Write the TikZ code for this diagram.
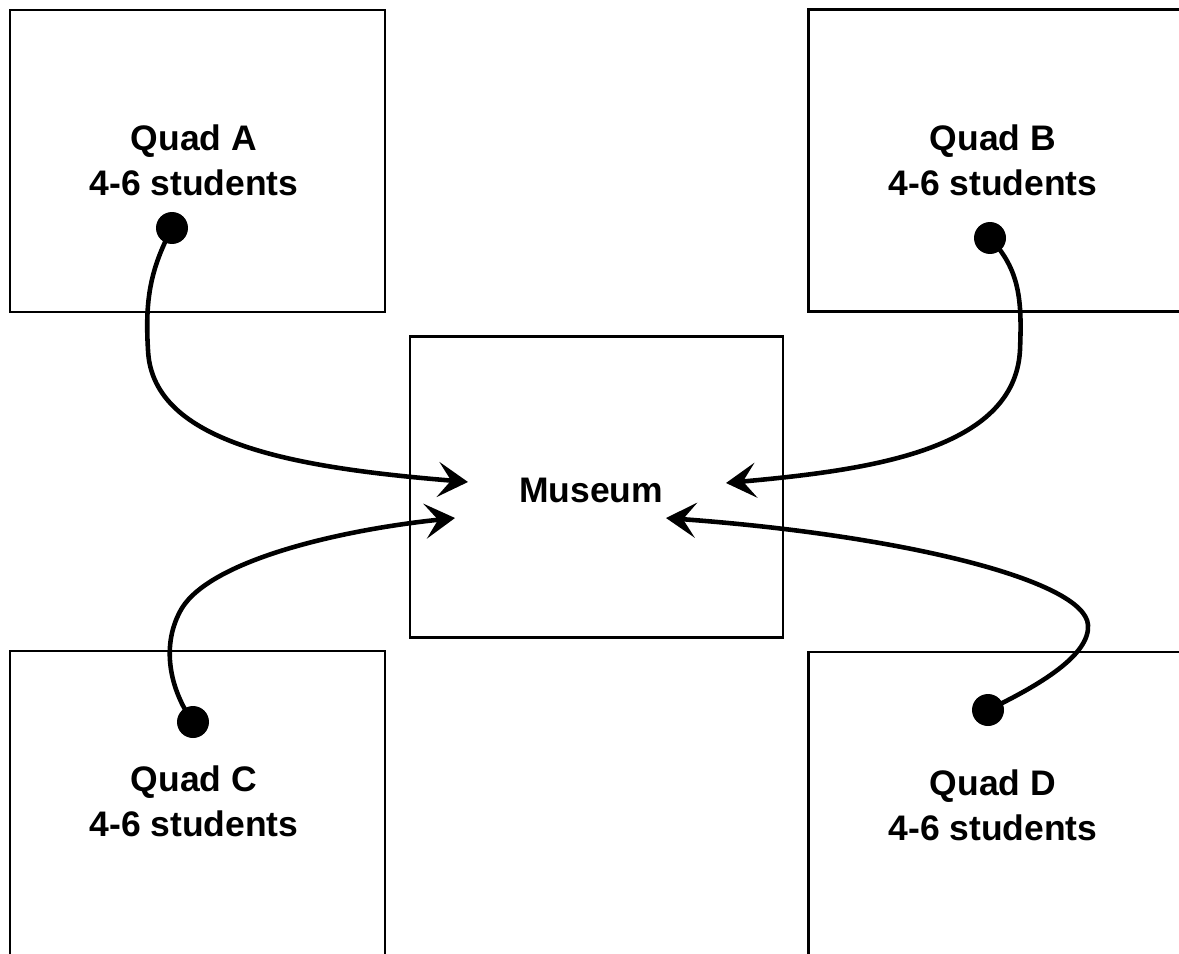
\documentclass[tikz,border=0pt]{standalone}
\usepackage{fontspec}
\setmainfont{Liberation Sans}
\usetikzlibrary{arrows.meta}
\begin{document}
\begin{tikzpicture}[x=0.02cm,y=-0.02cm,
  zone/.style={draw=black,line width=1.5pt,rectangle,inner sep=0pt,
    minimum width=7.5cm,minimum height=6.04cm},
  label/.style={align=center,inner sep=0pt,font=\bfseries\fontsize{20.2}{25.5}\selectfont},
  pin/.style={circle,fill=black,inner sep=0pt,minimum size=0.64cm},
  route/.style={line width=2.6pt,-{Stealth[length=0.6cm,width=0.7cm,inset=0.26cm]}}]
\useasboundingbox (0,0) rectangle (1179,953);
\clip (0,0) rectangle (1179,953);
% group areas and the museum
\node[zone] (qa) at (197.5,161) {};
\node[zone] (qb) at (996,160.5) {};
\node[zone,minimum height=6.2cm] (qc) at (197.5,806) {};
\node[zone,minimum height=6.2cm] (qd) at (996,807) {};
\node[zone,minimum width=7.46cm,minimum height=6.02cm] (mu) at (596.5,487) {};
% labels
\node[label] (la) at (194,160) {Quad A\\4-6 students};
\node[label] (lb) at (993,160) {Quad B\\4-6 students};
\node[label] (lc) at (194,801) {Quad C\\4-6 students};
\node[label] (ld) at (993,805) {Quad D\\4-6 students};
\node[label] (lm) at (591,490) {Museum};
% arrow tips at the museum
\coordinate (ta) at (468,482);
\coordinate (tb) at (726,483);
\coordinate (tc) at (455,518);
\coordinate (td) at (666,518);
% starting points
\node[pin] (pa) at (172,228) {};
\node[pin] (pb) at (990,238) {};
\node[pin] (pc) at (193,722) {};
\node[pin] (pd) at (988,710) {};
% routes to the museum
\draw[route] (pa.center) .. controls (150,270) and (145,300) .. (148,350)
  .. controls (152,445) and (300,468) .. (ta);
\draw[route] (pb.center) .. controls (1020,270) and (1022,300) .. (1020,350)
  .. controls (1015,450) and (870,470) .. (tb);
\draw[route] (pc.center) .. controls (170,690) and (160,645) .. (182,608)
  .. controls (212,560) and (340,530) .. (tc);
\draw[route] (pd.center) .. controls (1040,685) and (1090,655) .. (1088,625)
  .. controls (1085,580) and (900,535) .. (td);
\end{tikzpicture}
\end{document}
